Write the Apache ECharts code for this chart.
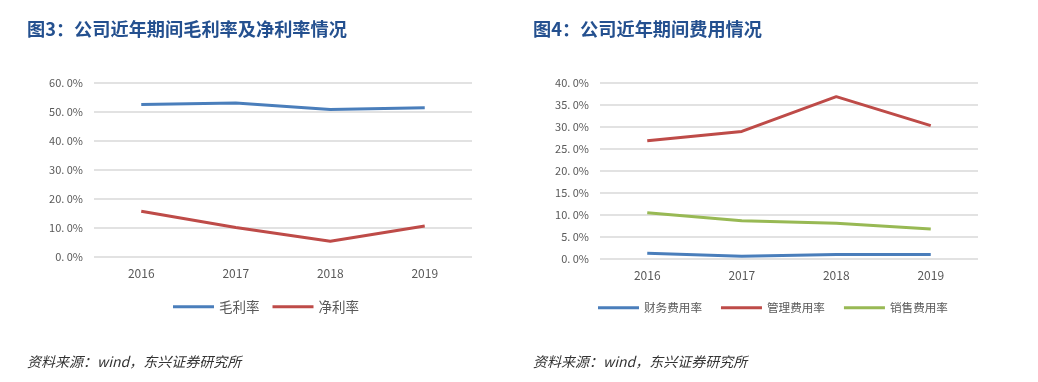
<!DOCTYPE html>
<html><head><meta charset="utf-8">
<script src="https://cdn.jsdelivr.net/npm/echarts@6/dist/echarts.min.js"></script>
<style>html,body{margin:0;padding:0;background:#fff}#c{width:1038px;height:382px}</style>
</head><body><div id="c"></div>
<script>
const years = ['2016', '2017', '2018', '2019'];
const grossMargin = [52.6, 53.1, 50.9, 51.5];
const netMargin = [15.8, 10.2, 5.4, 10.7];
const financeRate = [1.3, 0.6, 1.0, 1.0];
const adminRate = [26.9, 29.0, 36.9, 30.3];
const salesRate = [10.5, 8.7, 8.1, 6.8];
const leftTicks = ['0. 0%', '10. 0%', '20. 0%', '30. 0%', '40. 0%', '50. 0%', '60. 0%'];
const rightTicks = ['0. 0%', '5. 0%', '10. 0%', '15. 0%', '20. 0%', '25. 0%', '30. 0%', '35. 0%', '40. 0%'];
const title3 = '图3：公司近年期间毛利率及净利率情况';
const title4 = '图4：公司近年期间费用情况';
const source = '资料来源：wind，东兴证券研究所';

const FONT = '"Noto Sans CJK SC", "Noto Sans", sans-serif';
const axisLabel = {color: '#595959', fontSize: 11, fontFamily: FONT};
const chart = echarts.init(document.getElementById('c'), null, {renderer: 'canvas'});
const lineSeries = (name, data, color, idx) => ({
  name, type: 'line', data, xAxisIndex: idx, yAxisIndex: idx,
  symbol: 'none', smooth: false,
  lineStyle: {color, width: 3}, itemStyle: {color}
});
const titleStyle = {color: '#24508F', fontSize: 18.2, fontWeight: 'bold', fontFamily: FONT};
const srcStyle = {color: '#333', fontSize: 14, fontStyle: 'italic', fontWeight: 'normal', fontFamily: FONT};
chart.setOption({
  animation: false,
  textStyle: {fontFamily: FONT},
  title: [
    {text: title3, left: 22, top: 15, textStyle: titleStyle},
    {text: title4, left: 528, top: 15, textStyle: titleStyle},
    {text: source, left: 22, top: 350, textStyle: srcStyle},
    {text: source, left: 528, top: 350, textStyle: srcStyle}
  ],
  legend: [
    {data: ['毛利率', '净利率'], left: 173, top: 300, padding: 0, itemWidth: 41, itemHeight: 3, itemGap: 13,
     icon: 'rect', textStyle: {color: '#595959', fontSize: 13.5, fontFamily: FONT}},
    {data: ['财务费用率', '管理费用率', '销售费用率'], left: 598, top: 302, padding: 0, itemWidth: 41, itemHeight: 3, itemGap: 19,
     icon: 'rect', textStyle: {color: '#595959', fontSize: 11.6, fontFamily: FONT}}
  ],
  grid: [
    {left: 94, right: 566, top: 83, bottom: 125},
    {left: 600, right: 60, top: 83, bottom: 123}
  ],
  xAxis: [0, 1].map(i => ({
    type: 'category', gridIndex: i, data: years, boundaryGap: true,
    axisLine: {show: false}, axisTick: {show: false},
    axisLabel: Object.assign({}, axisLabel, {fontSize: 12, margin: 10})
  })),
  yAxis: [
    {type: 'value', gridIndex: 0, min: 0, max: 60, interval: 10,
     axisLine: {show: false}, axisTick: {show: false},
     splitLine: {lineStyle: {color: '#D9D9D9', width: 1.5}},
     axisLabel: Object.assign({}, axisLabel, {margin: 11, formatter: v => leftTicks[Math.round(v / 10)]})},
    {type: 'value', gridIndex: 1, min: 0, max: 40, interval: 5,
     axisLine: {show: false}, axisTick: {show: false},
     splitLine: {lineStyle: {color: '#D9D9D9', width: 1.5}},
     axisLabel: Object.assign({}, axisLabel, {margin: 11, formatter: v => rightTicks[Math.round(v / 5)]})}
  ],
  series: [
    lineSeries('毛利率', grossMargin, '#4A7EBB', 0),
    lineSeries('净利率', netMargin, '#BE4B48', 0),
    lineSeries('财务费用率', financeRate, '#4A7EBB', 1),
    lineSeries('管理费用率', adminRate, '#BE4B48', 1),
    lineSeries('销售费用率', salesRate, '#98B954', 1)
  ]
});
</script></body></html>
